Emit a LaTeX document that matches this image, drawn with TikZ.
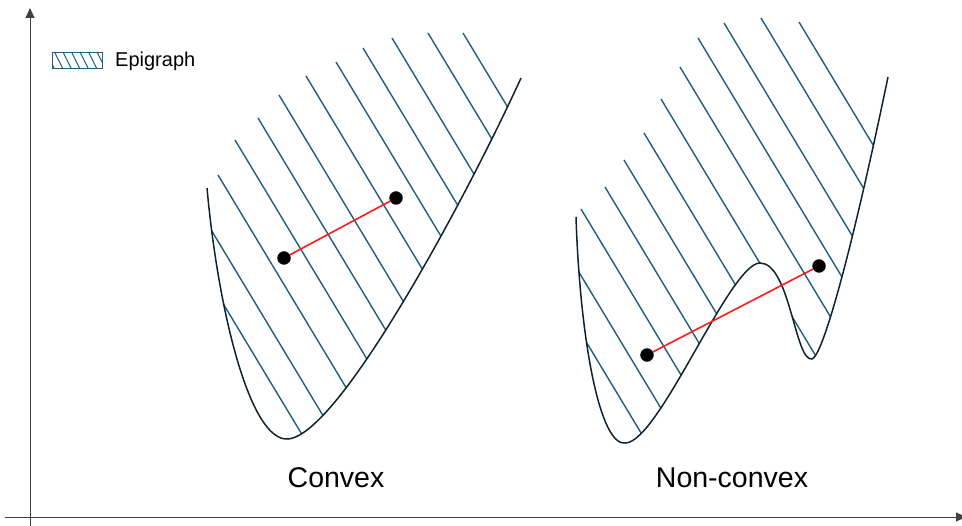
\documentclass[tikz,border=0pt]{standalone}
\usepackage{fontspec}
\setmainfont{Liberation Sans}
\usetikzlibrary{arrows.meta}
\definecolor{hatchc}{HTML}{1F5E80}
\definecolor{curvec}{HTML}{10222E}
\definecolor{chordc}{HTML}{FF1A1A}
\definecolor{axisc}{HTML}{404040}
\tikzset{
  hatchline/.style={hatchc, line width=1.4bp},
  curveline/.style={curvec, line width=1.5bp},
  chord/.style={chordc, line width=1.6bp},
  dot/.style={circle, fill=black, draw=curvec, inner sep=0pt, minimum size=13bp},
  axisline/.style={axisc, line width=0.9bp},
  biglabel/.style={font=\fontsize{28.5bp}{32bp}\selectfont, inner sep=0pt},
  smalllabel/.style={font=\fontsize{20bp}{23bp}\selectfont, inner sep=0pt, anchor=west}
}
\begin{document}
\begin{tikzpicture}[x=1bp,y=-1bp]
\useasboundingbox (0,0) rectangle (962,526);

% axes
\coordinate (yb) at (30,526);
\coordinate (yt) at (30,8);
\coordinate (xl) at (5,517);
\coordinate (xr) at (966,517);
\draw[axisline, -{Triangle[length=10bp,width=9bp]}] (yb) -- (yt);
\draw[axisline, -{Triangle[length=10bp,width=9bp]}] (xl) -- (xr);

% legend
\begin{scope}
  \clip (52,52) rectangle (102,68);
  \foreach \k in {0,...,7} {
    \draw[hatchc, line width=1bp] (46+8.5*\k,52) -- ++(8,16);
  }
\end{scope}
\draw[hatchc, line width=0.8bp] (52,52) rectangle (102,68);
\node[smalllabel] (leg) at (115,61) {Epigraph};

% convex epigraph
\begin{scope}
  \clip (207,188) .. controls (218,310) and (250,442) .. (288,439)
        .. controls (340,435) and (470,190) .. (521,78)
        -- (521,0) -- (207,0) -- cycle;
  \foreach \p in {(190,194.8),(200,265.2),(218,175),(235,140),(258,118),(279,95),(306,76),(336,62),(363,48),(392,38),(428,33),(463,33)} {
    \draw[hatchline] \p -- ++(300,498);
  }
\end{scope}
\draw[curveline] (207,188) .. controls (218,310) and (250,442) .. (288,439)
        .. controls (340,435) and (470,190) .. (521,78);

% non-convex epigraph
\begin{scope}
  \clip (576,217) .. controls (580,340) and (600,448) .. (626,443)
        .. controls (660,440) and (730,263) .. (760,263)
        .. controls (790,263) and (795,362) .. (812,359)
        .. controls (822,357) and (850,260) .. (888,77)
        -- (888,0) -- (576,0) -- cycle;
  \foreach \p in {(565,249),(570,315),(581,209),(605,187),(624,160),(644,133),(661,99),(680,67),(698,38),(724,23),(761,18),(799,22)} {
    \draw[hatchline] \p -- ++(300,498);
  }
\end{scope}
\draw[curveline] (576,217) .. controls (580,340) and (600,448) .. (626,443)
        .. controls (660,440) and (730,263) .. (760,263)
        .. controls (790,263) and (795,362) .. (812,359)
        .. controls (822,357) and (850,260) .. (888,77);

% chords
\node[dot] (c1) at (284,258) {};
\node[dot] (c2) at (396,198) {};
\draw[chord] (c1) -- (c2);
\node[dot] (n1) at (647,355) {};
\node[dot] (n2) at (819,266) {};
\draw[chord] (n1) -- (n2);

% labels
\node[biglabel] (lc) at (336,478) {Convex};
\node[biglabel] (ln) at (732,478) {Non-convex};
\end{tikzpicture}
\end{document}
